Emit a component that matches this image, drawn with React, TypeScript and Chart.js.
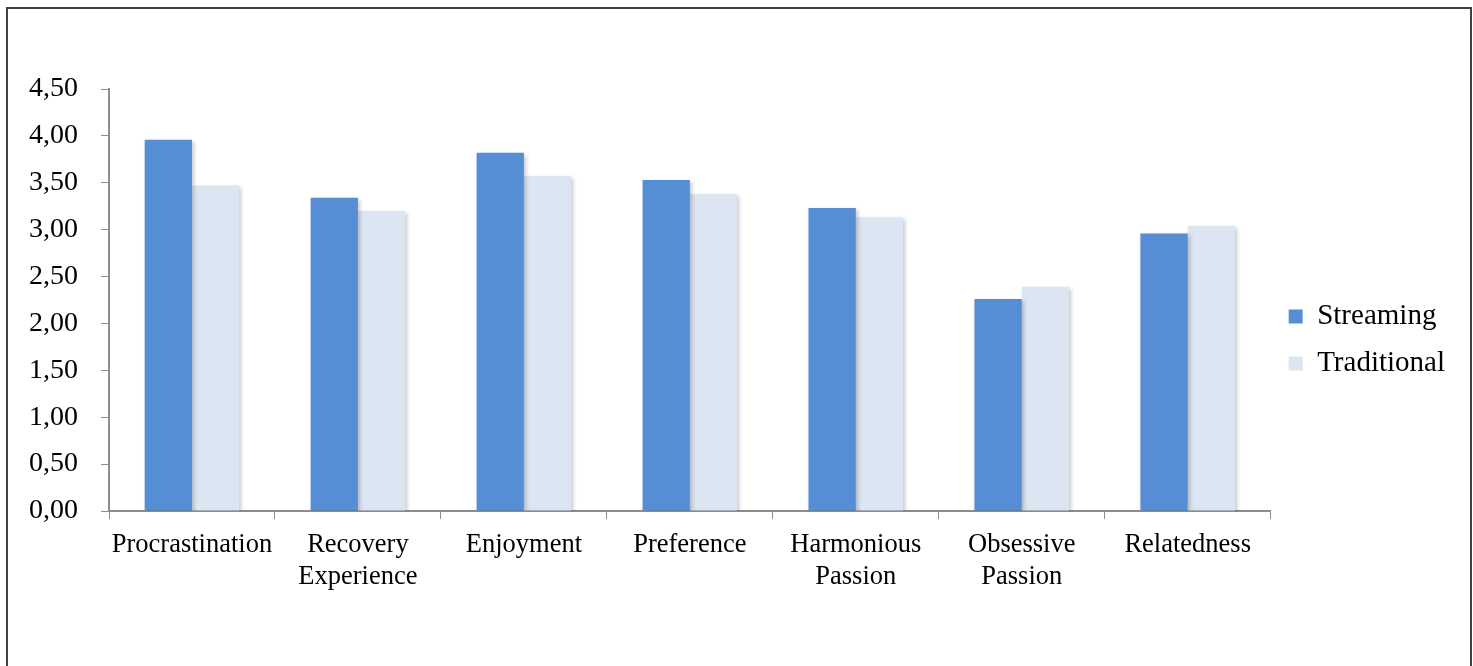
import React, { useEffect, useRef } from "react";
import { Chart, registerables } from "chart.js";

Chart.register(...registerables);

const categories: string[][] = [
  ["Procrastination"],
  ["Recovery", "Experience"],
  ["Enjoyment"],
  ["Preference"],
  ["Harmonious", "Passion"],
  ["Obsessive", "Passion"],
  ["Relatedness"],
];
const streamingValues = [3.96, 3.34, 3.82, 3.53, 3.23, 2.26, 2.96];
const traditionalValues = [3.47, 3.2, 3.57, 3.38, 3.13, 2.39, 3.04];
const seriesNames = ["Streaming", "Traditional"];
const yMin = 0;
const yMax = 4.5;
const yStep = 0.5;

const FONT = '"Liberation Serif", "Times New Roman", serif';

const shadowPlugin = {
  id: "barShadow",
  beforeDatasetsDraw(chart: any) {
    const ctx = chart.ctx;
    ctx.save();
    ctx.shadowColor = "rgba(0,0,0,0.22)";
    ctx.shadowBlur = 4;
    ctx.shadowOffsetX = 2;
    ctx.shadowOffsetY = 2;
  },
  afterDatasetsDraw(chart: any) {
    chart.ctx.restore();
  },
};

export default function App() {
  const ref = useRef<HTMLCanvasElement | null>(null);

  useEffect(() => {
    if (!ref.current) return;
    const chart = new Chart(ref.current, {
      type: "bar",
      data: {
        labels: categories,
        datasets: [
          {
            label: seriesNames[0],
            data: streamingValues,
            backgroundColor: "#558ED5",
            borderWidth: 0,
            categoryPercentage: 0.57,
            barPercentage: 1,
          },
          {
            label: seriesNames[1],
            data: traditionalValues,
            backgroundColor: "#DCE6F2",
            borderWidth: 0,
            categoryPercentage: 0.57,
            barPercentage: 1,
          },
        ],
      },
      options: {
        responsive: false,
        animation: false,
        devicePixelRatio: 1,
        layout: { padding: { top: 89, bottom: 75, left: 10, right: 18 } },
        plugins: {
          legend: {
            position: "right",
            labels: {
              boxWidth: 14,
              boxHeight: 14,
              color: "#000",
              padding: 18,
              font: { family: FONT, size: 29 },
            },
          },
          tooltip: { enabled: false },
        },
        scales: {
          x: {
            grid: {
              drawOnChartArea: false,
              drawTicks: true,
              tickLength: 8,
              color: "#8c8c8c",
              offset: true,
            },
            border: { display: true, color: "#8c8c8c", width: 2 },
            ticks: {
              color: "#000",
              font: { family: FONT, size: 26.5 },
              maxRotation: 0,
              autoSkip: false,
              padding: 10,
            },
            afterFit(scale: any) {
              scale.height = 80;
            },
          },
          y: {
            min: yMin,
            max: yMax,
            grid: {
              drawOnChartArea: false,
              drawTicks: true,
              tickLength: 8,
              color: "#8c8c8c",
            },
            border: { display: true, color: "#8c8c8c", width: 2 },
            ticks: {
              stepSize: yStep,
              color: "#000",
              font: { family: FONT, size: 28 },
              padding: 23,
              callback: (v: any) => Number(v).toFixed(2).replace(".", ","),
            },
            afterFit(scale: any) {
              scale.width = 99;
            },
          },
        },
      },
      plugins: [shadowPlugin],
    });
    return () => chart.destroy();
  }, []);

  return (
    <div style={{ position: "absolute", left: 0, top: 0, width: 1473, height: 666, overflow: "hidden", background: "#fff" }}>
      <div
        style={{
          position: "absolute",
          left: 6,
          top: 7,
          width: 1462,
          height: 700,
          border: "2px solid #404040",
          boxSizing: "content-box",
        }}
      />
      <canvas ref={ref} width={1473} height={666} style={{ position: "absolute", left: 0, top: 0, display: "block" }} />
    </div>
  );
}
